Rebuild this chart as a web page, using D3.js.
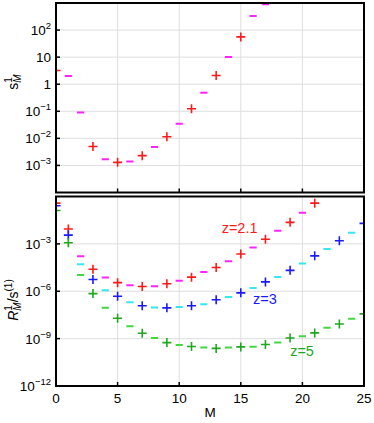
<!DOCTYPE html>
<html>
<head>
<meta charset="utf-8">
<script src="https://cdn.jsdelivr.net/npm/d3@7"></script>
<style>
body { margin: 0; background: #fff; }
text { font-family: "Liberation Sans", Arial, sans-serif; }
</style>
</head>
<body>
<div id="chart"></div>
<script>
// top panel: s^1_M
var topM = [0,1,2,3,4,5,6,7,8,9,10,11,12,13,14,15,16,17];
var topS = [3.2, 2.0, 0.09, 0.005, 1.7e-3, 1.3e-3, 1.4e-3, 2.3e-3, 4.8e-3, 0.0115, 0.035, 0.124, 0.48, 2.1, 10.2, 56, 333, 900];
var topKind = ["+","-","-","+","-","+","-","+","-","+","-","+","-","+","-","+","-","-"];

// bottom panel: R^1_M / s^(1)
var botM = [0,1,2,3,4,5,6,7,8,9,10,11,12,13,14,15,16,17,18,19,20,21,22,23,24,25];
var botKind = ["+","+","-","+","-","+","-","+","-","+","-","+","-","+","-","+","-","+","-","+","-","+","-","+","-","+"];
var rZ21 = [0.38, 8.7e-3, 1.66e-4, 2.45e-5, 7.4e-6, 3.5e-6, 2.4e-6, 2.0e-6, 2.1e-6, 3.0e-6, 4.7e-6, 7.8e-6, 1.66e-5, 3.2e-5, 7.9e-5, 2.3e-4, 6.0e-4, 1.95e-3, 6.8e-3, 2.3e-2, 9.5e-2, 0.38];
var rZ3 = [0.26, 3.6e-3, 5.1e-5, 5.5e-6, 1.15e-6, 4.8e-7, 2.0e-7, 1.2e-7, 9.3e-8, 8.9e-8, 1.0e-7, 1.2e-7, 1.48e-7, 2.9e-7, 4.3e-7, 7.9e-7, 1.58e-6, 3.9e-6, 7.9e-6, 2.1e-5, 5.8e-5, 1.74e-4, 4.7e-4, 1.58e-3, 5.1e-3, 2.0e-2];
var rZ5 = [0.13, 1.17e-3, 1.07e-5, 7.1e-7, 8.9e-8, 1.95e-8, 6.0e-9, 2.2e-9, 1.1e-9, 5.6e-10, 4.0e-10, 3.2e-10, 2.7e-10, 2.4e-10, 2.7e-10, 3.0e-10, 3.1e-10, 4.2e-10, 5.6e-10, 1.1e-9, 1.4e-9, 2.3e-9, 4.8e-9, 8.5e-9, 1.8e-8, 3.7e-8];

var xTicks = [0,5,10,15,20,25];
var topYTicks = [1e2, 10, 1, 1e-1, 1e-2, 1e-3];
var topGrid = [1e2, 10, 1, 1e-1, 1e-2, 1e-3];
var botYTicks = [1e-3, 1e-6, 1e-9, 1e-12];
var botGrid = [1e-3, 1e-6, 1e-9];

var seriesBot = [
	{name: "z=2.1", values: rZ21, plus: "#ff1a1a", dash: "#ff22ff", label: [14.9, 10 ** -2.3]},
	{name: "z=3", values: rZ3, plus: "#1a1aff", dash: "#33e8f0", label: [16.95, 10 ** -6.83]},
	{name: "z=5", values: rZ5, plus: "#1ea81e", dash: "#40d840", label: [19.97, 10 ** -10.13]}
];

var W = 374, H = 423;
var left = 56, right = 364;

var svg = d3.select("#chart").append("svg")
	.attr("width", W).attr("height", H);

var x = d3.scaleLinear().domain([0, 25]).range([left, right]);
var yTop = d3.scaleLog().domain([1e-4, 1e3]).range([192.5, 3]);
var yBot = d3.scaleLog().domain([1e-12, 1]).range([386, 196.5]);

function expLabel(sel, v) {
	var e = Math.round(Math.log10(v));
	if (e === 0) { sel.text("1"); return; }
	if (e === 1) { sel.text("10"); return; }
	sel.text("10");
	sel.append("tspan").attr("dy", -6).attr("font-size", 9.5)
		.text(e < 0 ? "\u2212" + (-e) : e);
}

function panel(y, gridV, yTicks, clipId) {
	var g = svg.append("g");
	g.append("clipPath").attr("id", clipId).append("rect")
		.attr("x", left).attr("y", y.range()[1])
		.attr("width", right - left).attr("height", y.range()[0] - y.range()[1]);

	g.selectAll(".gh").data(gridV).enter().append("line")
		.attr("x1", left).attr("x2", right)
		.attr("y1", function (d) { return y(d); })
		.attr("y2", function (d) { return y(d); })
		.attr("stroke", "#dedede").attr("stroke-width", 1);
	g.selectAll(".gv").data([5, 10, 15, 20]).enter().append("line")
		.attr("x1", function (d) { return x(d); })
		.attr("x2", function (d) { return x(d); })
		.attr("y1", y.range()[0]).attr("y2", y.range()[1])
		.attr("stroke", "#dedede").attr("stroke-width", 1);

	// inward ticks
	g.selectAll(".ty").data(yTicks).enter().append("line")
		.attr("x1", left).attr("x2", left + 4)
		.attr("y1", function (d) { return y(d); })
		.attr("y2", function (d) { return y(d); })
		.attr("stroke", "#000").attr("stroke-width", 1.5);
	g.selectAll(".tx").data([5, 10, 15, 20]).enter().append("line")
		.attr("x1", function (d) { return x(d); })
		.attr("x2", function (d) { return x(d); })
		.attr("y1", y.range()[0]).attr("y2", y.range()[0] - 4)
		.attr("stroke", "#000").attr("stroke-width", 1.5);

	g.selectAll(".yl").data(yTicks).enter().append("text")
		.attr("x", left - 5)
		.attr("y", function (d) { return y(d) + 5; })
		.attr("text-anchor", "end")
		.attr("font-size", 13.5)
		.each(function (d) { expLabel(d3.select(this), d); });
	return g;
}

function drawMarkers(g, clipId, y, ms, vals, kinds, plusColor, dashColor) {
	var pts = vals.map(function (v, i) { return {m: ms[i], v: v, k: kinds[i]}; });
	var mg = g.append("g").attr("clip-path", "url(#" + clipId + ")");
	mg.selectAll(".mk").data(pts).enter().append("path")
		.attr("transform", function (d) { return "translate(" + x(d.m) + "," + y(d.v) + ")"; })
		.attr("d", function (d) { return d.k === "+" ? "M-4.5,0H4.5M0,-4.5V4.5" : "M-3.6,0H3.6"; })
		.attr("fill", "none")
		.attr("stroke", function (d) { return d.k === "+" ? plusColor : dashColor; })
		.attr("stroke-width", function (d) { return d.k === "+" ? 1.6 : 2; });
}

function frame(y) {
	svg.append("rect")
		.attr("x", left).attr("y", y.range()[1])
		.attr("width", right - left).attr("height", y.range()[0] - y.range()[1])
		.attr("fill", "none").attr("stroke", "#000").attr("stroke-width", 2);
}

// top panel
var gTop = panel(yTop, topGrid, topYTicks, "clipTop");
drawMarkers(gTop, "clipTop", yTop, topM, topS, topKind, "#ff1a1a", "#ff22ff");
frame(yTop);

// bottom panel
var gBot = panel(yBot, botGrid, botYTicks, "clipBot");
seriesBot.forEach(function (s) {
	drawMarkers(gBot, "clipBot", yBot, botM, s.values, botKind, s.plus, s.dash);
	gBot.append("text")
		.attr("x", x(s.label[0])).attr("y", yBot(s.label[1]))
		.attr("text-anchor", "middle")
		.attr("font-size", 14.5)
		.attr("fill", s.plus)
		.text(s.name);
});
frame(yBot);

// x tick labels
svg.selectAll(".xl").data(xTicks).enter().append("text")
	.attr("x", function (d) { return x(d); })
	.attr("y", 403)
	.attr("text-anchor", "middle")
	.attr("font-size", 13.5)
	.text(function (d) { return d; });

svg.append("text").attr("x", x(12.5)).attr("y", 417)
	.attr("text-anchor", "middle").attr("font-size", 13.5).text("M");

// y axis titles
var t1 = svg.append("text")
	.attr("transform", "translate(18,82) rotate(-90)")
	.attr("text-anchor", "middle").attr("font-size", 14);
t1.append("tspan").text("s");
t1.append("tspan").attr("dy", -6).attr("font-size", 10).text("1");
t1.append("tspan").attr("dx", -5.6).attr("dy", 9).attr("font-size", 10).attr("font-style", "italic").text("M");

var t2 = svg.append("text")
	.attr("transform", "translate(18,300) rotate(-90)")
	.attr("text-anchor", "middle").attr("font-size", 14);
t2.append("tspan").attr("font-style", "italic").text("R");
t2.append("tspan").attr("dy", -6).attr("font-size", 10).text("1");
t2.append("tspan").attr("dx", -5.6).attr("dy", 9).attr("font-size", 10).attr("font-style", "italic").text("M");
t2.append("tspan").attr("dy", -3).text("/s");
t2.append("tspan").attr("dy", -6).attr("font-size", 10).text("(1)");
</script>
</body>
</html>
